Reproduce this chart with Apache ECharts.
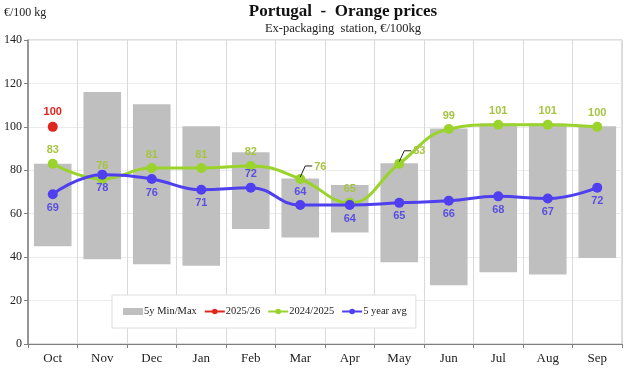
<!DOCTYPE html>
<html><head><meta charset="utf-8">
<script src="https://cdn.jsdelivr.net/npm/echarts@6/dist/echarts.min.js"></script>
<style>html,body{margin:0;padding:0;background:#fff}#c{width:625px;height:368px}</style>
</head><body><div id="c"></div>
<script>
var categories = ['Oct','Nov','Dec','Jan','Feb','Mar','Apr','May','Jun','Jul','Aug','Sep'];
var minVals = [45, 39, 36.7, 36, 53, 49, 51.4, 37.6, 27, 33, 32, 39.6];
var maxVals = [83, 116, 110.4, 100.3, 88.3, 76.2, 73.2, 83.2, 99.3, 101.5, 101.5, 100.3];
var season2526 = [100, null, null, null, null, null, null, null, null, null, null, null];
var season2425 = [83, 76, 81, 81, 82, 76, 65, 83, 99, 101, 101, 100];
var avg5y = [69, 78, 76, 71, 72, 64, 64, 65, 66, 68, 67, 72];
var yTicks = [0, 20, 40, 60, 80, 100, 120, 140];

var serif = 'Liberation Serif';
var sans = 'Liberation Sans';
var green = '#99d32b', greenLbl = '#a6c444', blue = '#4f3fef', blueLbl = '#5a4fe0', red = '#e0261d';

var rangeVals = maxVals.map(function (v, i) { return +(v - minVals[i]).toFixed(2); });

var blueData = avg5y.map(function (v, i) {
  var d = { value: v };
  if (i === 4 || i === 5) d.label = { position: 'top' };
  return d;
});

var chart = echarts.init(document.getElementById('c'), null, { renderer: 'canvas' });
chart.setOption({
  animation: false,
  backgroundColor: '#fff',
  grid: { left: 28, right: 3, top: 40, bottom: 24, show: true, borderColor: '#bdbdbd', borderWidth: 1 },
  graphic: [
    { type: 'text', left: 4, top: 7, style: { text: '€/100 kg', font: '12px ' + serif, fill: '#222' } },
    { type: 'text', x: 343, y: 3, style: { text: 'Portugal  -  Orange prices', font: 'bold 17px ' + serif, fill: '#111', textAlign: 'center' } },
    { type: 'text', x: 343, y: 22, style: { text: 'Ex-packaging  station, €/100kg', font: '12.5px ' + serif, fill: '#222', textAlign: 'center' } }
  ],
  legend: {
    left: 112, top: 295,
    padding: [11, 9, 11, 11],
    backgroundColor: '#fff', borderColor: '#dedede', borderWidth: 1,
    itemWidth: 20, itemHeight: 7, itemGap: 7,
    textStyle: { fontFamily: serif, fontSize: 10.5, color: '#222', padding: [0, 0, 0, -4] },
    data: [
      { name: '5y Min/Max', icon: 'rect' },
      { name: '2025/26' }, { name: '2024/2025' }, { name: '5 year avg' }
    ]
  },
  xAxis: {
    type: 'category', data: categories, boundaryGap: true,
    axisLine: { lineStyle: { color: '#7f7f7f', width: 1 } },
    axisTick: { show: true, alignWithLabel: false, length: 4, lineStyle: { color: '#7f7f7f' } },
    axisLabel: { fontFamily: serif, fontSize: 13, color: '#222', margin: 8 },
    splitLine: { show: true, lineStyle: { color: '#d9d9d9' } }
  },
  yAxis: {
    type: 'value', min: 0, max: 140, interval: 20,
    axisLine: { show: true, lineStyle: { color: '#7f7f7f', width: 1.5 } },
    axisTick: { show: true, length: 4, lineStyle: { color: '#7f7f7f' } },
    axisLabel: { fontFamily: serif, fontSize: 12, color: '#222', margin: 6,
      formatter: function (v) { return yTicks.indexOf(v) >= 0 ? String(v) : ''; } },
    splitLine: { show: true, lineStyle: { color: '#ececec' } }
  },
  series: [
    { name: 'base', type: 'bar', stack: 'mm', data: minVals, barWidth: '76%',
      itemStyle: { color: 'rgba(0,0,0,0)' }, silent: true, z: 1 },
    { name: '5y Min/Max', type: 'bar', stack: 'mm', data: rangeVals, barWidth: '76%',
      itemStyle: { color: '#bfbfbf' }, z: 1 },
    { name: '2025/26', type: 'line', data: season2526, symbol: 'circle', symbolSize: 10,
      itemStyle: { color: red }, lineStyle: { color: red, width: 3 }, z: 5,
      label: { show: true, position: 'top', distance: 4, color: red, fontFamily: sans, fontWeight: 'bold', fontSize: 11 } },
    { name: '2024/2025', type: 'line', data: season2425, smooth: 0.45, symbol: 'circle', symbolSize: 10,
      itemStyle: { color: green }, lineStyle: { color: green, width: 3 }, z: 4,
      label: { show: true, position: 'top', distance: 3, color: greenLbl, fontFamily: sans, fontWeight: 'bold', fontSize: 11 },
      labelLayout: function (p) {
        if (p.dataIndex === 5 || p.dataIndex === 7) {
          return { dx: 20, dy: 1 };
        }
        return {};
      }
    },
    { name: '5 year avg', type: 'line', data: blueData, smooth: 0.45, symbol: 'circle', symbolSize: 10,
      itemStyle: { color: blue }, lineStyle: { color: blue, width: 3 }, z: 4,
      label: { show: true, position: 'bottom', distance: 3, color: blueLbl, fontFamily: sans, fontWeight: 'bold', fontSize: 11 } }
  ]
});

// leader lines for shifted labels, placed via library coordinates
var leaderIdx = [5, 7];
chart.setOption({ graphic: leaderIdx.map(function (i, k) {
  var p = chart.convertToPixel({ seriesIndex: 3 }, [i, season2425[i]]);
  return { id: 'leader' + k, type: 'polyline',
    shape: { points: [[p[0], p[1] - 2], [p[0] + 5, p[1] - 13], [p[0] + 12, p[1] - 13]] },
    style: { stroke: '#222', lineWidth: 1, fill: null }, z: 10 };
}) });
</script></body></html>
